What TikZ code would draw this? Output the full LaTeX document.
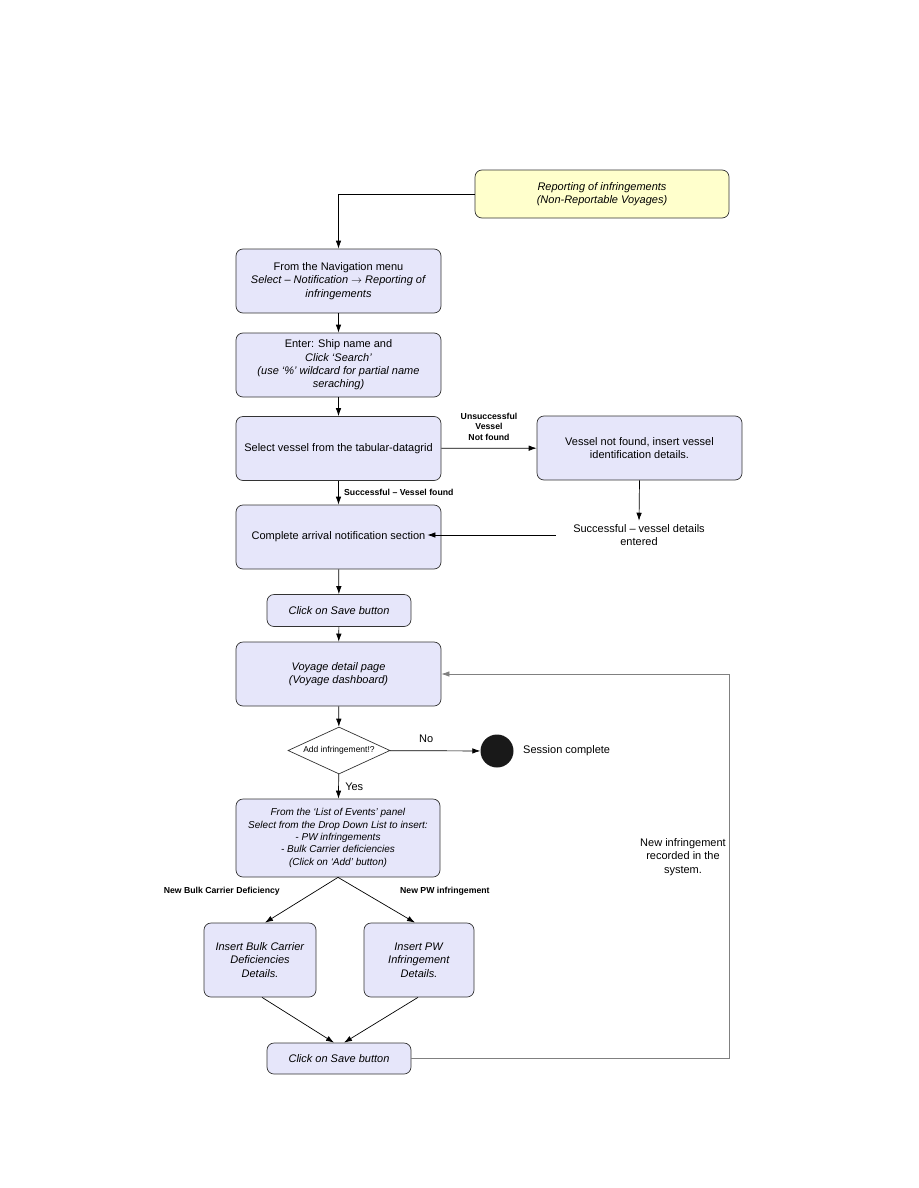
\documentclass[tikz,border=0pt]{standalone}
\usepackage{fontspec}
\setmainfont{Liberation Sans}
\usepackage{xcolor}
\usetikzlibrary{arrows.meta,positioning,shapes.geometric,calc}
\definecolor{boxfill}{RGB}{230,230,250}
\definecolor{hdrfill}{RGB}{255,255,204}
\definecolor{loopgray}{RGB}{128,128,128}
\newcommand{\bodyfont}{\fontsize{11}{13.4}\selectfont}
\newcommand{\smallfont}{\fontsize{10}{12.4}\selectfont}

\begin{document}
\begin{tikzpicture}[x=1pt,y=-1pt,
  nd/.style={draw=black!80,rounded corners=7pt,align=center,fill=boxfill,inner sep=2pt,font=\bodyfont,line width=0.7pt},
  wide/.style={nd,minimum width=205pt,minimum height=64pt},
  btn/.style={nd,minimum width=144pt,minimum height=32pt},
  hdr/.style={nd,fill=hdrfill,minimum width=254pt,minimum height=48pt},
  dec/.style={draw=black!80,diamond,aspect=2.2,fill=white,inner sep=0pt,minimum width=102pt,minimum height=47pt,line width=0.7pt,font=\fontsize{8.5}{10}\selectfont},
  lbl/.style={font=\fontsize{8.7}{10.5}\selectfont\bfseries,align=center},
  txt/.style={font=\bodyfont,align=center},
  arr/.style={-{Latex[length=8pt,width=5.5pt]},line width=0.7pt}]
\useasboundingbox (0,0) rectangle (918,1188);

% nodes
\node[hdr] (start) at (602,194) {\textit{Reporting of infringements}\\\textit{(Non-Reportable Voyages)}};
\node[wide] (nav) at (338.5,281) {From the Navigation menu\\\textit{Select -- Notification $\rightarrow$ Reporting of}\\\textit{infringements}};
\node[wide] (enter) at (338.5,365) {Enter: Ship name and\\\textit{Click `Search'}\\\textit{(use `\%' wildcard for partial name}\\\textit{seraching)}};
\node[wide] (pick) at (338.5,448.5) {Select vessel from the tabular-datagrid};
\node[wide] (notfound) at (639.5,448) {Vessel not found, insert vessel\\identification details.};
\node[txt] (entered) at (639,535) {Successful -- vessel details\\entered};
\node[wide] (arrival) at (338.5,537) {Complete arrival notification section};
\node[btn] (save) at (339,610.5) {\textit{Click on Save button}};
\node[wide] (voyage) at (338.5,674) {\textit{Voyage detail page}\\\textit{(Voyage dashboard)}};
\node[dec] (addq) at (339,750.5) {Add infringement!?};
\node[circle,fill=black!90,minimum size=33pt,inner sep=0pt] (done) at (497,751) {};
\node[txt,right=6pt of done] (donetxt) {Session complete};
\node[wide,minimum width=204pt,minimum height=78pt,font=\smallfont] (events) at (338,838) {\textit{From the `List of Events' panel}\\\textit{Select from the Drop Down List to insert:}\\\textit{- PW infringements}\\\textit{- Bulk Carrier deficiencies}\\\textit{(Click on `Add' button)}};
\node[nd,minimum width=112pt,minimum height=74pt] (bulk) at (260,960) {\textit{Insert Bulk Carrier}\\\textit{Deficiencies}\\\textit{Details.}};
\node[nd,minimum width=110pt,minimum height=74pt] (pw) at (419,960) {\textit{Insert PW}\\\textit{Infringement}\\\textit{Details.}};
\node[btn,minimum height=31pt] (save2) at (339,1058.5) {\textit{Click on Save button}};
\node[txt] (recorded) at (683,857) {New infringement\\recorded in the\\system.};
\coordinate (loop) at (729,1058.5);

% connectors
\draw[arr] (start.west) -| (nav.north);
\draw[arr] (nav) -- (enter);
\draw[arr] (enter) -- (pick);
\draw[arr] (pick) -- node[lbl,above=4pt] {Unsuccessful\\Vessel\\Not found} (notfound);
\draw[arr] (pick) -- node[lbl,right=2pt] {Successful -- Vessel found} (arrival);
\draw[arr] (notfound.south) -- (entered.north);
\draw[arr] ([xshift=-14pt]entered.west) -- ([xshift=-14pt]entered.west -| arrival.east);
\draw[arr] (arrival) -- (save);
\draw[arr] (save) -- (voyage);
\draw[arr] (voyage) -- (addq);
\draw[arr] (addq) -- node[txt,above=4pt,pos=0.4] {No} (done);
\draw[arr] (addq) -- node[txt,right=3pt] {Yes} (events);
\draw[arr] (events.south) -- node[lbl,above left=1pt and 18pt] {New Bulk Carrier Deficiency} ([xshift=5pt]bulk.north);
\draw[arr] (events.south) -- node[lbl,above right=1pt and 20pt] {New PW infringement} ([xshift=-4pt]pw.north);
\draw[arr] ([xshift=2pt]bulk.south) -- ([xshift=-5pt]save2.north);
\draw[arr] ([xshift=-1pt]pw.south) -- ([xshift=5pt]save2.north);
\draw[arr,draw=loopgray] (save2.east) -- (loop) |- (voyage.east);
\end{tikzpicture}
\end{document}
